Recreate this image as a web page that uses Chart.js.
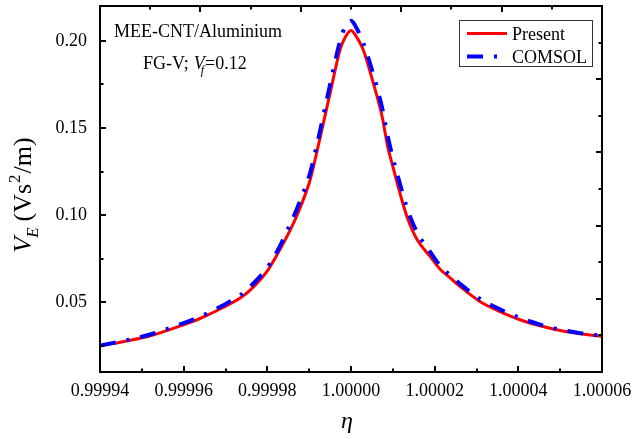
<!DOCTYPE html>
<html>
<head>
<meta charset="utf-8">
<script src="https://cdn.jsdelivr.net/npm/chart.js@4.4.1/dist/chart.umd.min.js"></script>
<style>
  body { margin: 0; background: #fff; }
  canvas { display: block; }
</style>
</head>
<body>
<canvas id="chart" width="633" height="439"></canvas>
<script>
// frequency ratio eta
const eta = [0.99994, 0.9999479, 0.999952, 0.9999584, 0.9999639, 0.9999692, 0.9999735, 0.9999759,
  0.9999797, 0.9999823, 0.9999859, 0.9999878, 0.9999902, 0.9999921, 0.999995, 0.9999974, 0.9999986,
  1.0, 1.0000014, 1.0000029, 1.0000053, 1.0000074, 1.0000088, 1.00001, 1.0000117, 1.0000134,
  1.0000158, 1.0000189, 1.0000213, 1.0000237, 1.0000261, 1.0000308, 1.0000356, 1.0000404,
  1.0000452, 1.00005, 1.0000547, 1.00006];
const present = [0.0250, 0.0285, 0.0308, 0.0358, 0.0407, 0.0467, 0.0524, 0.0570,
  0.0670, 0.0772, 0.0935, 0.1040, 0.1200, 0.1390, 0.1700, 0.1950, 0.2020,
  0.2060, 0.2020, 0.1950, 0.1760, 0.1570, 0.1390, 0.1280, 0.1126, 0.0990,
  0.0860, 0.0763, 0.0690, 0.0640, 0.0590, 0.0505, 0.0447, 0.0400,
  0.0365, 0.0338, 0.0320, 0.0305];
const comsol = [0.0252, 0.0290, 0.0315, 0.0367, 0.0418, 0.0480, 0.0540, 0.0590,
  0.0690, 0.0790, 0.0970, 0.1080, 0.1240, 0.1430, 0.1750, 0.2000, 0.2080,
  0.2115, 0.2070, 0.1990, 0.1810, 0.1620, 0.1450, 0.1330, 0.1180, 0.1040,
  0.0900, 0.0790, 0.0710, 0.0655, 0.0605, 0.0520, 0.0460, 0.0410,
  0.0372, 0.0343, 0.0323, 0.0308];
const xTicks = [0.99994, 0.99996, 0.99998, 1.00000, 1.00002, 1.00004, 1.00006];
const yTicks = [0.05, 0.10, 0.15, 0.20];
const seriesNames = ['Present', 'COMSOL'];

const SERIF = '"Liberation Serif", "Times New Roman", serif';

function pairs(ys) {
  return eta.map((x, i) => ({ x: x, y: ys[i] }));
}

// draw a run of text pieces: [text, font, dy, extra advance]
function drawRun(ctx, x, y, parts) {
  parts.forEach(p => {
    ctx.font = p[1];
    ctx.fillText(p[0], x, y + (p[2] || 0));
    x += ctx.measureText(p[0]).width + (p[3] || 0);
  });
}
function runWidth(ctx, parts) {
  let w = 0;
  parts.forEach(p => { ctx.font = p[1]; w += ctx.measureText(p[0]).width + (p[3] || 0); });
  return w;
}

const decorations = {
  id: 'decorations',
  afterDraw(chart) {
    const ctx = chart.ctx;
    const a = chart.chartArea;
    const xs = chart.scales.x, ys = chart.scales.y;
    const w = a.right - a.left, h = a.bottom - a.top;
    ctx.save();
    ctx.strokeStyle = '#000';
    ctx.lineWidth = 2;
    ctx.strokeRect(a.left, a.top, w, h);

    ctx.beginPath();
    // bottom axis ticks, pointing in
    for (let i = 0; i < xTicks.length; i++) {
      const p = Math.round(xs.getPixelForValue(xTicks[i]));
      ctx.moveTo(p, a.bottom); ctx.lineTo(p, a.bottom - 6);
      if (i < xTicks.length - 1) {
        const m = Math.round(xs.getPixelForValue((xTicks[i] + xTicks[i + 1]) / 2));
        ctx.moveTo(m, a.bottom); ctx.lineTo(m, a.bottom - 3.5);
      }
    }
    // left axis ticks
    const yMinor = [0.025].concat(yTicks.map(v => v + 0.025)).filter(v => v < ys.max);
    yTicks.forEach(v => {
      const p = Math.round(ys.getPixelForValue(v));
      ctx.moveTo(a.left, p); ctx.lineTo(a.left + 6, p);
    });
    yMinor.forEach(v => {
      const p = Math.round(ys.getPixelForValue(v));
      ctx.moveTo(a.left, p); ctx.lineTo(a.left + 3.5, p);
    });
    // top and right axes: ten divisions
    for (let i = 1; i < 10; i++) {
      const len = i % 2 === 0 ? 6 : 3.5;
      const px = Math.round(a.left + i * w / 10);
      ctx.moveTo(px, a.top); ctx.lineTo(px, a.top + len);
      const py = Math.round(a.top + i * h / 10);
      ctx.moveTo(a.right, py); ctx.lineTo(a.right - len, py);
    }
    ctx.stroke();

    // annotations
    ctx.fillStyle = '#000';
    ctx.textAlign = 'left';
    ctx.textBaseline = 'alphabetic';
    ctx.font = '18px ' + SERIF;
    ctx.fillText('MEE-CNT/Aluminium', 114, 37);
    drawRun(ctx, 143, 69, [
      ['FG-V;', '18px ' + SERIF, 0, 5],
      ['V', 'italic 18px ' + SERIF, 0, -4],
      ['f', 'italic 12px ' + SERIF, 5, 1],
      ['=0.12', '18px ' + SERIF, 0]
    ]);

    // x title
    ctx.font = 'italic 24px ' + SERIF;
    ctx.textAlign = 'center';
    ctx.fillText('\u03b7', 347, 428);

    // y title, rotated
    const yParts = [
      ['V', 'italic 26px ' + SERIF, 0, -1],
      ['E', 'italic 17px ' + SERIF, 7, 6],
      ['(Vs', '26px ' + SERIF, 0, 1],
      ['2', '17px ' + SERIF, -11, 1],
      ['/m)', '26px ' + SERIF, 0]
    ];
    ctx.textAlign = 'left';
    ctx.save();
    ctx.translate(31, 195);
    ctx.rotate(-Math.PI / 2);
    drawRun(ctx, -runWidth(ctx, yParts) / 2, 0, yParts);
    ctx.restore();

    // legend
    ctx.lineWidth = 1;
    ctx.strokeStyle = '#333';
    ctx.strokeRect(459.5, 20.5, 133, 46);
    chart.data.datasets.forEach((ds, i) => {
      const ly = 33.5 + i * 23;
      ctx.beginPath();
      ctx.strokeStyle = ds.borderColor;
      ctx.lineWidth = ds.borderWidth;
      ctx.setLineDash(ds.borderDash || []);
      ctx.moveTo(467, ly); ctx.lineTo(507, ly);
      ctx.stroke();
      ctx.setLineDash([]);
      ctx.fillStyle = '#000';
      ctx.font = '18px ' + SERIF;
      ctx.fillText(seriesNames[i], 512, ly + 6);
    });
    ctx.restore();
  }
};

new Chart(document.getElementById('chart'), {
  type: 'line',
  data: {
    datasets: [{
      label: seriesNames[0],
      data: pairs(present),
      borderColor: '#ff0000',
      borderWidth: 3,
      pointRadius: 0,
      cubicInterpolationMode: 'monotone',
      order: 2
    }, {
      label: seriesNames[1],
      data: pairs(comsol),
      borderColor: '#0000ff',
      borderWidth: 4,
      borderDash: [16, 11, 3, 11],
      pointRadius: 0,
      cubicInterpolationMode: 'monotone',
      order: 1
    }]
  },
  options: {
    responsive: false,
    animation: false,
    layout: { padding: { top: 6, right: 31, left: 0, bottom: 0 } },
    plugins: { legend: { display: false }, tooltip: { enabled: false } },
    scales: {
      x: {
        type: 'linear',
        min: 0.99994,
        max: 1.00006,
        grid: { display: false, drawTicks: false },
        border: { display: false },
        afterBuildTicks: scale => { scale.ticks = xTicks.map(v => ({ value: v })); },
        afterFit: scale => {
          scale.height = 67;
          scale.paddingLeft = 0; scale.paddingRight = 0;
        },
        ticks: {
          padding: 8,
          color: '#000',
          maxRotation: 0,
          font: { family: SERIF, size: 18 },
          callback: v => v.toFixed(5)
        }
      },
      y: {
        min: 0.01,
        max: 0.22,
        grid: { display: false, drawTicks: false },
        border: { display: false },
        afterBuildTicks: scale => { scale.ticks = yTicks.map(v => ({ value: v })); },
        afterFit: scale => {
          scale.width = 100;
          scale.paddingTop = 0; scale.paddingBottom = 0;
        },
        ticks: {
          padding: 13,
          color: '#000',
          font: { family: SERIF, size: 18 },
          callback: v => v.toFixed(2)
        }
      }
    }
  },
  plugins: [decorations]
});
</script>
</body>
</html>
